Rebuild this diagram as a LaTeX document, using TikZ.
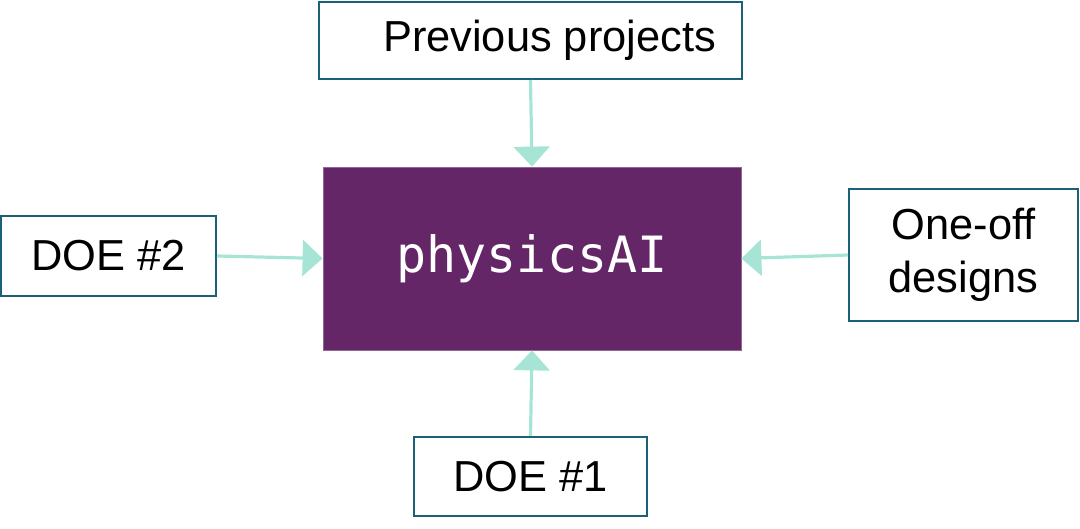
\documentclass[tikz,border=0pt]{standalone}
\usepackage{fontspec}
\setmainfont{Liberation Sans}
\newfontfamily\codefont{DejaVu Sans Mono}
\usetikzlibrary{arrows.meta}
\definecolor{boxline}{HTML}{1B5F78}
\definecolor{purplefill}{HTML}{642667}
\definecolor{mint}{HTML}{A6E5D5}
\tikzset{
  inbox/.style={draw=boxline, line width=1pt, fill=white, inner sep=0pt, align=center, font=\fontsize{21.7}{26.5}\selectfont},
  core/.style={fill=purplefill, draw=purplefill!70!white, line width=0.4pt, inner sep=0pt, text=white, font=\codefont\fontsize{25}{28}\selectfont},
  feed/.style={draw=mint, line width=1.6pt, -{Triangle[width=18pt,length=10pt]}}
}
\begin{document}
\begin{tikzpicture}[x=0.5pt,y=-0.5pt]
\useasboundingbox (0,0) rectangle (1080,529);
\node[core, minimum width=209pt, minimum height=91.5pt] (ai) at (532,258.5) {physicsAI};
\node[inbox, minimum width=211.5pt, minimum height=38.5pt] (prev) at (530.5,40.5) {\hspace*{19pt}Previous projects};
\node[inbox, minimum width=107.5pt, minimum height=40pt] (doe2) at (108.5,256) {DOE \#2};
\node[inbox, minimum width=114.5pt, minimum height=66pt] (one) at (963.5,255) {One-off\\designs};
\node[inbox, minimum width=116.5pt, minimum height=39.5pt] (doe1) at (530.5,476.5) {DOE \#1};
\draw[feed] (prev.south) -- (ai.north);
\draw[feed] (doe1.north) -- (ai.south);
\draw[feed] (doe2.east) -- (ai.west);
\draw[feed] (one.west) -- (ai.east);
\end{tikzpicture}
\end{document}
